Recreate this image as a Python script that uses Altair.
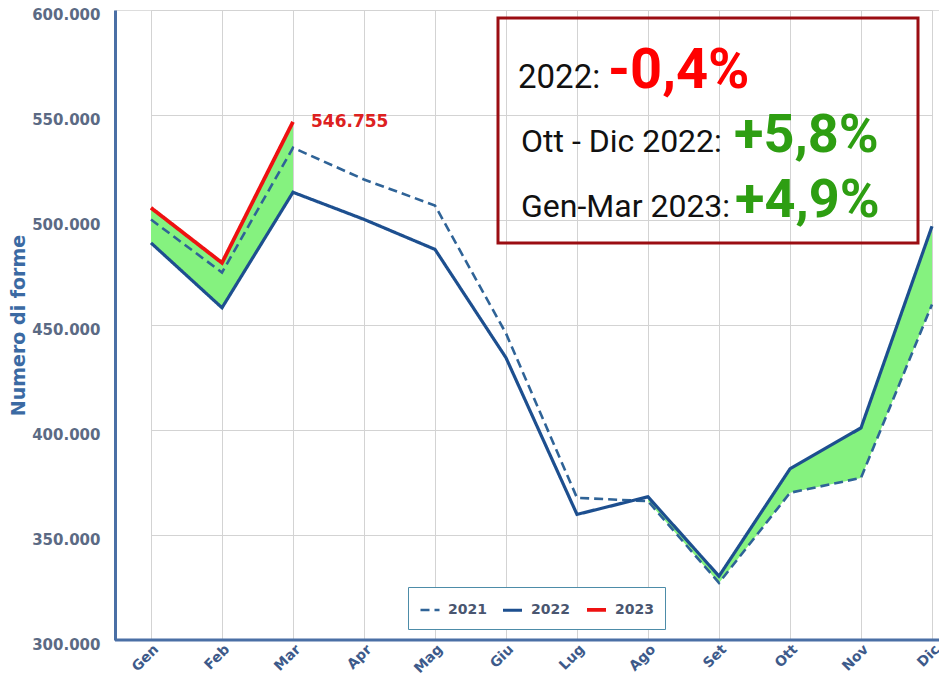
import altair as alt
import pandas as pd

months = ["Gen", "Feb", "Mar", "Apr", "Mag", "Giu", "Lug", "Ago", "Set", "Ott", "Nov", "Dic"]
v2021 = [500200, 475000, 534400, 519300, 506900, 446000, 367700, 366100, 327200, 370100, 377200, 459800]
v2022 = [489100, 458200, 513200, 500300, 486000, 434400, 359800, 368200, 330400, 381500, 401000, 497000]
v2023 = [505800, 479600, 546755]
series_names = ["2021", "2022", "2023"]
series_colors = ["#2f6397", "#1d4f8f", "#ee1111"]
y_ticks = [300000, 350000, 400000, 450000, 500000, 550000, 600000]

band_a_months = months[0:3]
band_b_months = months[7:12]

rows = []
for s, vals in zip(series_names, [v2021, v2022, v2023]):
    for m, v in zip(months, vals):
        rows.append({"series": s, "month": m, "value": v})
lines_df = pd.DataFrame(rows)

band_rows = []
for i, m in enumerate(band_a_months):
    band_rows.append({"seg": "a", "month": m, "low": v2022[i], "high": v2023[i]})
for m in band_b_months:
    i = months.index(m)
    band_rows.append({"seg": "b", "month": m, "low": v2021[i], "high": v2022[i]})
band_df = pd.DataFrame(band_rows)

last_df = pd.DataFrame([{"month": months[2], "value": v2023[2]}])

AXIS_BLUE = "#4a6fa5"

x_enc = alt.X("month:N", sort=months,
              scale=alt.Scale(type="point", domain=months, range=[36, 817], padding=0),
              axis=alt.Axis(title=None, labelAngle=-45, labelFont="DejaVu Sans",
                            labelFontWeight="bold", labelFontSize=14, labelColor="#3d5a8a",
                            labelPadding=2, ticks=False, grid=True, gridColor="#d3d3d3",
                            domain=False))
y_scale = alt.Scale(domain=[300000, 600000], nice=False, zero=False)
y_axis = alt.Axis(title="Numero di forme", values=y_ticks,
                  labelExpr="replace(format(datum.value, ',.0f'), ',', '.')",
                  labelFont="DejaVu Sans", labelFontWeight="bold", labelFontSize=15,
                  labelColor="#5b6a84", labelPadding=15, labelOffset=4, ticks=False,
                  grid=True, gridColor="#d3d3d3", domainColor=AXIS_BLUE, domainWidth=3,
                  titleFont="DejaVu Sans", titleFontWeight="bold", titleFontSize=19,
                  titleColor="#3b6aa3", titleX=-97, titleY=315, titleAngle=270,
                  titleAlign="center", titleBaseline="middle")

band = alt.Chart(band_df).mark_area(color="#85F27F", opacity=1, interpolate="linear").encode(
    x=x_enc,
    y=alt.Y("low:Q", scale=y_scale, axis=y_axis),
    y2="high:Q",
    detail="seg:N",
)

legend_common = dict(orient="none", legendX=293, legendY=577, direction="horizontal",
                     title=None)
lines = alt.Chart(lines_df).mark_line().encode(
    x=alt.X("month:N", sort=months),
    y=alt.Y("value:Q"),
    color=alt.Color("series:N", scale=alt.Scale(domain=series_names, range=series_colors),
                    legend=alt.Legend(**legend_common,
                                      symbolType="stroke", symbolSize=361,
                                      symbolStrokeWidth=4, labelFont="DejaVu Sans",
                                      labelFontWeight="bold", labelFontSize=14,
                                      labelColor="#4a5670", strokeColor="#4d8ca8",
                                      fillColor="white", padding=11,
                                      columnPadding=9, labelOffset=7)),
    strokeDash=alt.StrokeDash("series:N",
                              scale=alt.Scale(domain=series_names,
                                              range=[[9, 5], [1, 0], [1, 0]]),
                              legend=alt.Legend(**legend_common)),
    strokeWidth=alt.StrokeWidth("series:N",
                                scale=alt.Scale(domain=series_names, range=[2.6, 3.8, 4.8]),
                                legend=None),
    order=alt.Order("series:N"),
)

base_line = alt.Chart(pd.DataFrame([{"v": y_ticks[0]}])).mark_rule(
    color=AXIS_BLUE, strokeWidth=3
).encode(y=alt.Y("v:Q"), x=alt.value(0), x2=alt.value(824))

last_label = alt.Chart(last_df).transform_calculate(
    lbl="replace(format(datum.value, ',.0f'), ',', '.')"
).mark_text(align="left", baseline="middle", dx=18, dy=0, font="DejaVu Sans",
            fontWeight="bold", fontSize=17, color="#dd2020").encode(
    x=alt.X("month:N", sort=months),
    y=alt.Y("value:Q"),
    text="lbl:N",
)

box = alt.Chart(pd.DataFrame([{"k": 1}])).mark_rect(
    fill=None, fillOpacity=0, stroke="#9b0d12", strokeWidth=3
).encode(x=alt.value(383), x2=alt.value(803), y=alt.value(8), y2=alt.value(233))

ann_font = "Roboto"
ann_rows = [
    ("2022:", 403, 77.7, 33, "normal", "#111111"),
    ("-0,4%", 493, 77.7, 56, "bold", "#ff0000"),
    ("Ott - Dic 2022:", 406, 142.3, 32, "normal", "#111111"),
    ("+5,8%", 619, 142.3, 54, "bold", "#2e9e12"),
    ("Gen-Mar 2023:", 406, 206.7, 32, "normal", "#111111"),
    ("+4,9%", 620, 206.7, 54, "bold", "#2e9e12"),
]
ann_layers = []
for txt, ax, ay, fs, fw, col in ann_rows:
    ann_layers.append(
        alt.Chart(pd.DataFrame([{"t": txt}])).mark_text(
            align="left", baseline="alphabetic", font=ann_font, fontSize=fs,
            fontWeight=fw, color=col
        ).encode(x=alt.value(ax), y=alt.value(ay), text="t:N")
    )

chart = alt.layer(band, lines, base_line, last_label, box, *ann_layers).properties(
    width=824, height=630,
    autosize=alt.AutoSizeParams(type="none"),
    padding={"left": 107, "top": 2, "right": 0, "bottom": 35},
).configure_view(stroke=None).configure(background="white")

chart.save("out.html", embed_options={"renderer": "svg", "actions": False})
